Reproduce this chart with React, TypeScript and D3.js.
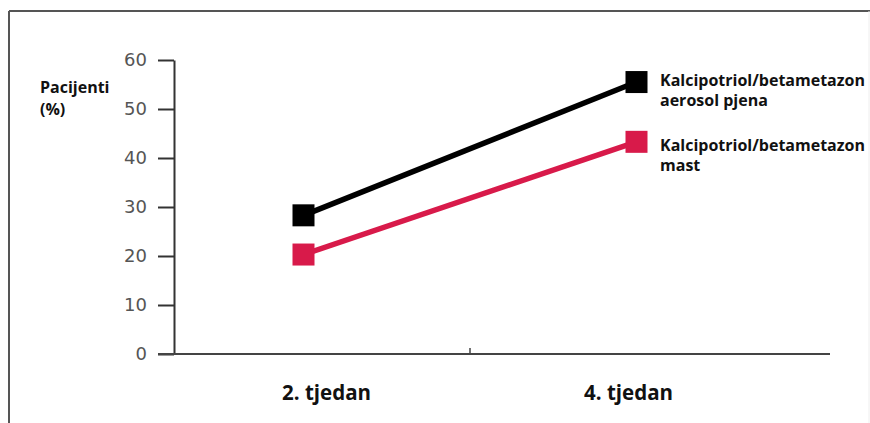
import React, { useRef, useEffect } from 'react';
import * as d3 from 'd3';

const weeks = ['2. tjedan', '4. tjedan'];
const foamValues = [28.3, 55.5];
const ointmentValues = [20.3, 43.3];
const yTicks = [0, 10, 20, 30, 40, 50, 60];
const foamLabel = ['Kalcipotriol/betametazon', 'aerosol pjena'];
const ointmentLabel = ['Kalcipotriol/betametazon', 'mast'];
const yTitle = ['Pacijenti', '(%)'];

const width = 870;
const height = 423;

const App: React.FC = () => {
  const svgRef = useRef<SVGSVGElement>(null);

  useEffect(() => {
    if (!svgRef.current) return;
    const svg = d3.select(svgRef.current);
    svg.selectAll('*').remove();

    const boldFont = '"Open Sans", Lato, sans-serif';

    // frame
    svg.append('line').attr('x1', 9).attr('x2', 9).attr('y1', 11).attr('y2', height)
      .attr('stroke', '#555').attr('stroke-width', 2);
    svg.append('line').attr('x1', 9).attr('x2', width).attr('y1', 11).attr('y2', 11)
      .attr('stroke', '#555').attr('stroke-width', 2);
    svg.append('line').attr('x1', 869).attr('x2', 869).attr('y1', 11).attr('y2', height)
      .attr('stroke', '#eee').attr('stroke-width', 1);

    const x = d3.scaleBand<string>().domain(weeks).range([137, 803]);
    const y = d3.scaleLinear().domain([0, 60]).range([354, 60]);

    // y axis
    const yAxis = svg.append('g')
      .attr('transform', 'translate(174,0)')
      .call(d3.axisLeft(y).tickValues(yTicks).tickSize(16).tickPadding(11).tickSizeOuter(0));
    yAxis.select('.domain').attr('stroke', '#333').attr('stroke-width', 2);
    yAxis.selectAll('.tick line').attr('stroke', '#333').attr('stroke-width', 2);
    yAxis.selectAll('.tick text')
      .attr('fill', '#555')
      .style('font-family', '"DejaVu Sans", sans-serif')
      .style('font-size', '18px');

    // x axis
    svg.append('line')
      .attr('x1', 158).attr('x2', 830).attr('y1', y(0)).attr('y2', y(0))
      .attr('stroke', '#444').attr('stroke-width', 2);
    svg.append('line')
      .attr('x1', x('4. tjedan')!).attr('x2', x('4. tjedan')!)
      .attr('y1', y(0)).attr('y2', y(0) - 6)
      .attr('stroke', '#444').attr('stroke-width', 1.5);

    const labelOffsets = [23, -8];
    svg.append('g').selectAll('text').data(weeks).enter().append('text')
      .attr('x', (d, i) => x(d)! + x.bandwidth() / 2 + labelOffsets[i])
      .attr('y', 400)
      .attr('text-anchor', 'middle')
      .style('font-family', boldFont)
      .style('font-weight', 700)
      .style('font-size', '20.5px')
      .attr('fill', '#111')
      .text((d) => d);

    // y title
    svg.append('text')
      .attr('x', 40).attr('y', 93)
      .style('font-family', boldFont).style('font-weight', 700).style('font-size', '16px')
      .attr('fill', '#111')
      .selectAll('tspan').data(yTitle).enter().append('tspan')
      .attr('x', 40).attr('dy', (_, i) => (i === 0 ? 0 : 22))
      .text((d) => d);

    const cx = (d: string) => x(d)! + x.bandwidth() / 2;
    const series = [
      { values: foamValues, color: '#000000', label: foamLabel, ly: 86 },
      { values: ointmentValues, color: '#d81a4a', label: ointmentLabel, ly: 151 },
    ];

    const line = d3.line<number>()
      .x((_, i) => cx(weeks[i]))
      .y((d) => y(d));

    const sq = 22;
    series.forEach((s) => {
      svg.append('path')
        .attr('d', line(s.values))
        .attr('fill', 'none')
        .attr('stroke', s.color)
        .attr('stroke-width', 5.5);
      svg.append('g').selectAll('rect').data(s.values).enter().append('rect')
        .attr('x', (_, i) => cx(weeks[i]) - sq / 2)
        .attr('y', (d) => y(d) - sq / 2)
        .attr('width', sq).attr('height', sq)
        .attr('fill', s.color);
      svg.append('text')
        .attr('y', s.ly)
        .style('font-family', boldFont).style('font-weight', 700).style('font-size', '16px')
        .attr('fill', '#111')
        .selectAll('tspan').data(s.label).enter().append('tspan')
        .attr('x', 660).attr('dy', (_, i) => (i === 0 ? 0 : 20))
        .text((d) => d);
    });
  }, []);

  return (
    <div style={{ position: 'absolute', left: 0, top: 0, background: '#fff' }}>
      <svg ref={svgRef} width={width} height={height} style={{ display: 'block' }}></svg>
    </div>
  );
};

export default App;
